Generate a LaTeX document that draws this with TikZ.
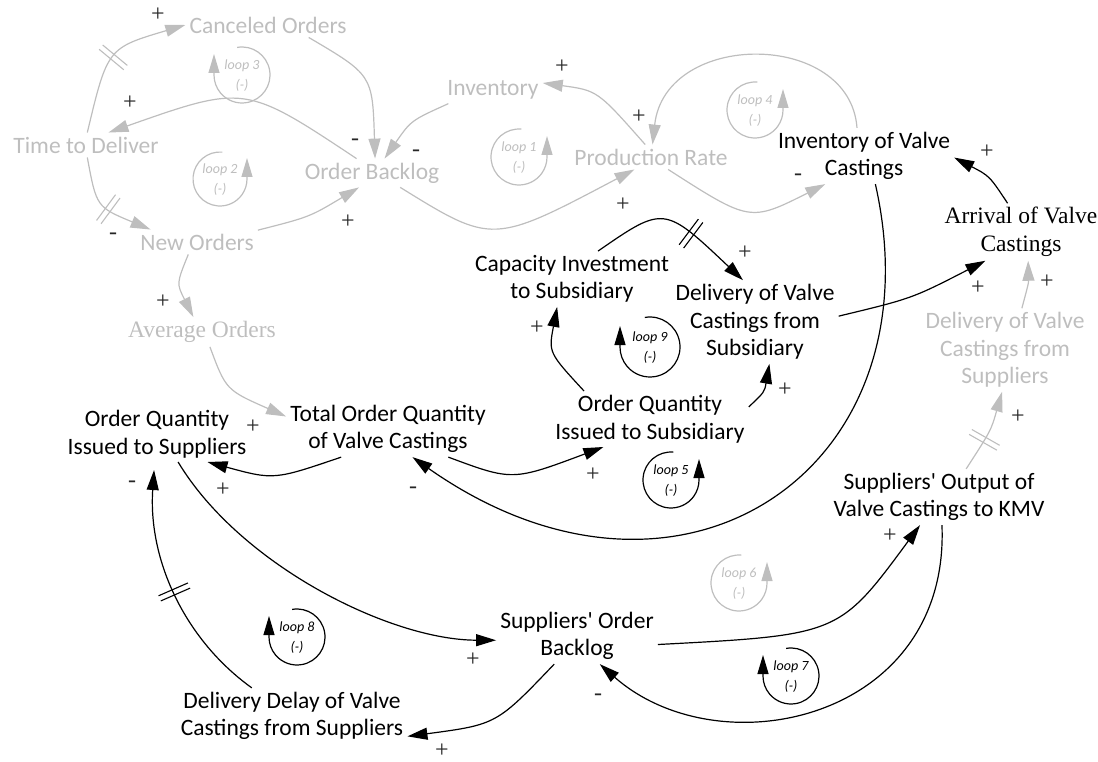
\documentclass[tikz,border=0pt]{standalone}
\usepackage{fontspec}
\setmainfont{Carlito}
\newfontfamily\timesf{Liberation Serif}
\usetikzlibrary{arrows.meta,decorations.markings}
\definecolor{lgray}{RGB}{190,190,190}
\newcommand{\lpcw}[6]{%
  \draw[lpl, color=#5] (#2,-#3) ++(100:#6) arc[start angle=100, end angle=-180, radius=#6] -- ++(0,21);
  \node[lpt, text=#5] (#1) at (#2,-#3-1) {loop #4\\(-)};}
\newcommand{\lpccw}[6]{%
  \draw[lpl, color=#5] (#2,-#3) ++(85:#6) arc[start angle=85, end angle=360, radius=#6] -- ++(0,21);
  \node[lpt, text=#5] (#1) at (#2,-#3-1) {loop #4\\(-)};}
\begin{document}
\begin{tikzpicture}[x=1pt,y=1pt,
  var/.style={font=\fontsize{23.5}{27.5}\selectfont, align=center, inner sep=4pt},
  gv/.style={var, text=lgray},
  bv/.style={var, text=black},
  tms/.style={font=\timesf\fontsize{23.5}{27.5}\selectfont},
  sgn/.style={font=\timesf\fontsize{24}{24}\selectfont, inner sep=0pt, text=black!85},
  lpt/.style={font=\itshape\fontsize{14}{20}\selectfont, align=center, inner sep=0pt},
  lpl/.style={line width=1.2pt, -{Triangle[length=19pt,width=11pt]}},
  gl/.style={color=lgray, line width=1.2pt, -{Triangle[length=20pt,width=12pt]}},
  bl/.style={color=black, line width=1.2pt, -{Triangle[length=20pt,width=12pt]}},
  dmark/.style={postaction={decorate}, decoration={markings, mark=at position #1 with {\draw[-,line width=1.1pt] (-2.8pt,-16pt) -- (-2.8pt,16pt) (2.8pt,-16pt) -- (2.8pt,16pt);}}}
]
\useasboundingbox (0,0) rectangle (1098,-762);

% grey variables
\node[gv] (canc) at (268,-25) {Canceled Orders};
\node[gv] (tdel) at (86,-145) {Time to Deliver};
\node[gv] (obl) at (372,-173) {Order Backlog};
\node[gv] (newo) at (197,-242) {New Orders};
\node[gv] (inv) at (493,-90) {Inventory};
\node[gv] (prod) at (651,-157) {Production Rate};
\node[gv, tms] (avg) at (202,-332) {Average Orders};
\node[gv] (dsup) at (1005,-350) {Delivery of Valve\\Castings from\\Suppliers};

% black variables
\node[bv] (ivc) at (864,-156) {Inventory of Valve\\Castings};
\node[bv, tms] (arr) at (1021,-232) {Arrival of Valve\\Castings};
\node[bv] (cap) at (572,-279) {Capacity Investment\\to Subsidiary};
\node[bv] (dsub) at (755,-322) {Delivery of Valve\\Castings from\\Subsidiary};
\node[bv] (oqsub) at (650,-419) {Order Quantity\\Issued to Subsidiary};
\node[bv] (toq) at (388,-429) {Total Order Quantity\\of Valve Castings};
\node[bv] (oqsup) at (157,-434) {Order Quantity\\Issued to Suppliers};
\node[bv] (soq) at (939,-497) {Suppliers\textquotesingle{} Output of\\Valve Castings to KMV};
\node[bv] (sob) at (577,-636) {Suppliers\textquotesingle{} Order\\Backlog};
\node[bv] (ddel) at (292,-716) {Delivery Delay of Valve\\Castings from Suppliers};

% grey links
\draw[gl, dmark=0.5] (tdel.84) .. controls (107.5,-48) .. (canc.180);
\draw[gl] (canc.-17) .. controls (372.5,-75) .. (obl.78);
\draw[gl] (obl.137) .. controls (245,-84.5) .. (tdel.29);
\draw[gl, dmark=0.55] (tdel.-84) .. controls (96.5,-207) .. (newo.165);
\draw[gl] (newo.11) .. controls (309.5,-217) .. (obl.228);
\draw[gl] (inv.197) .. controls (411,-120.5) .. (obl.49);
\draw[gl] (obl.-27) .. controls (492.5,-244.5) .. (prod.217);
\draw[gl] (prod.115) .. controls (597.5,-90.5) .. (inv.8);
\draw[gl] (ivc.104) .. controls (850,-30) and (665,-30) .. (prod.83);
\draw[gl] (prod.-36) .. controls (750,-222) .. (ivc.216);
\draw[gl] (newo.235) .. controls (176.5,-283.5) .. (avg.120);
\draw[gl] (avg.-62) .. controls (226,-390) .. (toq.173);
\draw[gl, dmark=0.4] (soq.46) .. controls (991,-430.5) .. (dsup.266);
\draw[gl] (dsup.68) .. controls (1028.5,-283.5) .. (arr.-76);

% black links
\draw[bl] (arr.115) .. controls (989.5,-176) .. (ivc.-1);
\draw[bl] (ivc.-68) .. controls (940,-470) and (680,-645) .. (toq.-49);
\draw[bl, dmark=0.6] (cap.47) .. controls (664,-205.5) .. (dsub.106);
\draw[bl] (dsub.4) .. controls (912,-298.5) .. (arr.219);
\draw[bl] (oqsub.157) .. controls (548.5,-352.5) .. (cap.242);
\draw[bl] (oqsub.7) .. controls (764.5,-392) .. (dsub.-71);
\draw[bl] (toq.-25) .. controls (512.5,-481) .. (oqsub.211);
\draw[bl] (toq.211) .. controls (274,-480) .. (oqsup.-29);
\draw[bl, dmark=0.5] (ddel.145) .. controls (185,-640) and (148,-560) .. ([yshift=-8pt]oqsup.264);
\draw[bl] (oqsup.-53) .. controls (240,-565) and (390,-640) .. (sob.183);
\draw[bl] (sob.-6) .. controls (839,-635) .. (soq.236);
\draw[bl] (soq.-84) .. controls (950,-720) and (720,-770) .. (sob.-51);
\draw[bl] (sob.231) .. controls (496.5,-724.5) .. (ddel.-10);

% polarity signs
\node[sgn] (s1) at (158,-15) {+};
\node[sgn] (s2) at (130,-103) {+};
\node[sgn] (s3) at (355,-142) {-};
\node[sgn] (s4) at (113,-236) {-};
\node[sgn] (s5) at (348,-222) {+};
\node[sgn] (s6) at (416,-153) {-};
\node[sgn] (s7) at (623,-205) {+};
\node[sgn] (s8) at (639,-117) {+};
\node[sgn] (s9) at (562,-67) {+};
\node[sgn] (s10) at (798,-177) {-};
\node[sgn] (s11) at (163,-302) {+};
\node[sgn] (s12) at (253,-427) {+};
\node[sgn] (s13) at (1018,-417) {+};
\node[sgn] (s14) at (1047,-282) {+};
\node[sgn] (s15) at (978,-288) {+};
\node[sgn] (s16) at (987,-152) {+};
\node[sgn] (s17) at (413,-490) {-};
\node[sgn] (s18) at (745,-253) {+};
\node[sgn] (s19) at (537,-328) {+};
\node[sgn] (s20) at (785,-390) {+};
\node[sgn] (s21) at (593,-475) {+};
\node[sgn] (s22) at (223,-490) {+};
\node[sgn] (s23) at (132,-484) {-};
\node[sgn] (s24) at (473,-660) {+};
\node[sgn] (s25) at (890,-536) {+};
\node[sgn] (s26) at (598,-697) {-};
\node[sgn] (s27) at (442,-751) {+};

% loop markers
\lpcw{lp3}{242}{75}{3}{lgray}{28}
\lpccw{lp2}{220}{179}{2}{lgray}{27}
\lpccw{lp1}{519}{157}{1}{lgray}{28}
\lpccw{lp4}{755}{110}{4}{lgray}{28}
\lpcw{lp9}{650}{347}{9}{black}{30}
\lpccw{lp5}{671}{480}{5}{black}{28}
\lpccw{lp6}{739}{583}{6}{lgray}{28}
\lpcw{lp7}{791}{676}{7}{black}{28}
\lpcw{lp8}{297}{637}{8}{black}{28}
\end{tikzpicture}
\end{document}
